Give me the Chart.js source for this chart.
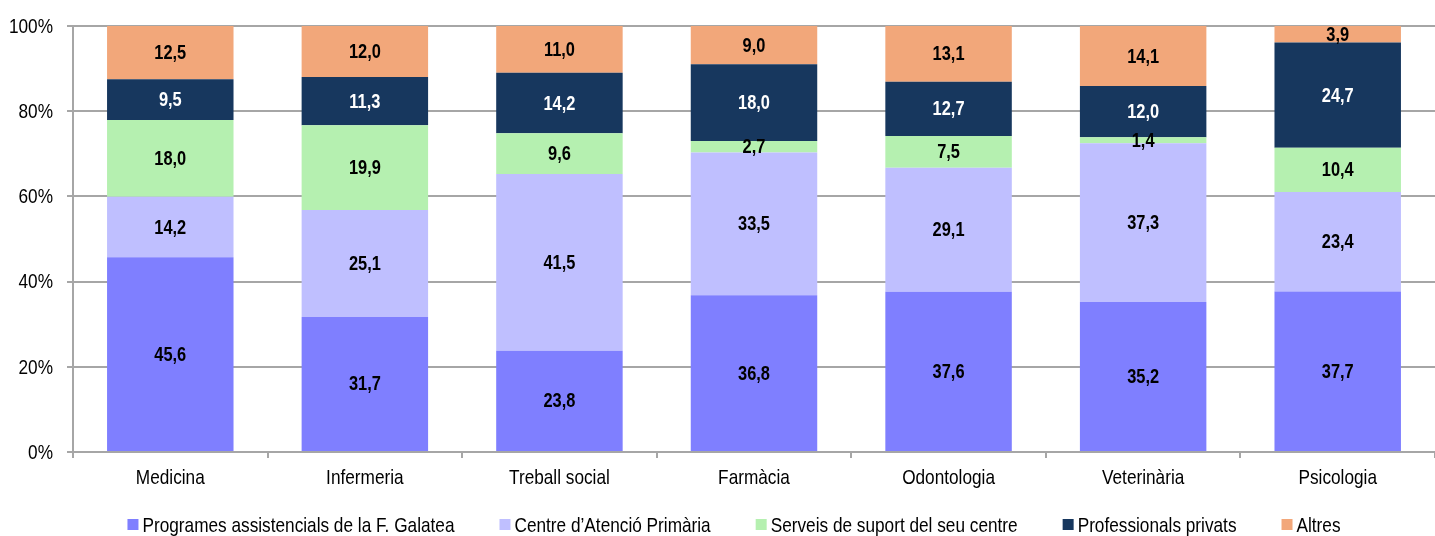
<!DOCTYPE html>
<html lang="ca">
<head>
<meta charset="UTF-8" />
<title>Recursos utilitzats per titulació</title>
<script src="https://cdn.jsdelivr.net/npm/chart.js"></script>
<style>
    body { margin: 0; background: #fff; }
    .chart-box { width: 1435px; height: 536px; }
</style>
</head>
<body>
<div class="chart-box">
    <canvas id="stackChart"></canvas>
</div>
<script>
    const categories = ['Medicina', 'Infermeria', 'Treball social', 'Farmàcia', 'Odontologia', 'Veterinària', 'Psicologia'];
    const seriesNames = [
        'Programes assistencials de la F. Galatea',
        'Centre d\u2019Atenció Primària',
        'Serveis de suport del seu centre',
        'Professionals privats',
        'Altres'
    ];
    const programes = [45.6, 31.7, 23.8, 36.8, 37.6, 35.2, 37.7];
    const atencioPrimaria = [14.2, 25.1, 41.5, 33.5, 29.1, 37.3, 23.4];
    const serveisSuport = [18.0, 19.9, 9.6, 2.7, 7.5, 1.4, 10.4];
    const privats = [9.5, 11.3, 14.2, 18.0, 12.7, 12.0, 24.7];
    const altres = [12.5, 12.0, 11.0, 9.0, 13.1, 14.1, 3.9];
    const yTicks = [0, 20, 40, 60, 80, 100];

    const colors = ['#7F7FFF', '#BFBFFF', '#B5F0B0', '#17375E', '#F2A77A'];
    const labelColors = ['#000', '#000', '#000', '#fff', '#000'];
    const FONT = '"Liberation Sans", Arial, sans-serif';
    const NARROW = 0.82;   // no narrow face installed, so squeeze the text instead
    const GRID = '#A6A6A6';

    const raw = [programes, atencioPrimaria, serveisSuport, privats, altres];
    // 100% stacked: each column scaled to its own total
    const totals = categories.map((_, i) => raw.reduce((s, arr) => s + arr[i], 0));

    const datasets = raw.map((arr, d) => ({
        label: seriesNames[d],
        data: arr.map((v, i) => v / totals[i] * 100),
        rawValues: arr,
        backgroundColor: colors[d],
        borderWidth: 0,
        categoryPercentage: 1,
        barPercentage: 0.65
    }));

    function narrowText(c, txt, x, y, align) {
        c.save();
        c.translate(x, y);
        c.scale(NARROW, 1);
        c.textAlign = align;
        c.fillText(txt, 0, 0);
        c.restore();
    }

    // tick labels, segment values and legend, all in the condensed look
    const narrowTexts = {
        id: 'narrowTexts',
        afterDraw(chart) {
            const c = chart.ctx;
            const xs = chart.scales.x, ys = chart.scales.y;
            c.save();
            c.textBaseline = 'middle';

            c.font = 'bold 20px ' + FONT;
            chart.data.datasets.forEach((ds, d) => {
                c.fillStyle = labelColors[d];
                chart.getDatasetMeta(d).data.forEach((bar, i) => {
                    const p = bar.getProps(['x', 'y', 'base'], true);
                    const txt = ds.rawValues[i].toFixed(1).replace('.', ',');
                    narrowText(c, txt, p.x, (p.y + p.base) / 2 + 1, 'center');
                });
            });

            c.font = '21px ' + FONT;
            c.fillStyle = '#000';
            yTicks.forEach(v => narrowText(c, v + '%', ys.left + 53, ys.getPixelForValue(v) + 1, 'right'));
            categories.forEach((cat, i) => narrowText(c, cat, xs.getPixelForValue(i), chart.chartArea.bottom + 26, 'center'));

            // legend row
            const widths = seriesNames.map(n => c.measureText(n).width * NARROW);
            const total = widths.reduce((a, w) => a + w + 15, 0) + 45 * (widths.length - 1);
            let x = 734 - total / 2;
            const y = 525;
            seriesNames.forEach((n, i) => {
                c.fillStyle = colors[i];
                c.fillRect(x, y - 6, 11, 11);
                c.fillStyle = '#000';
                narrowText(c, n, x + 15, y + 1, 'left');
                x += 15 + widths[i] + 45;
            });
            c.restore();
        }
    };

    new Chart(document.getElementById('stackChart'), {
        type: 'bar',
        data: { labels: categories, datasets: datasets },
        plugins: [narrowTexts],
        options: {
            responsive: true,
            maintainAspectRatio: false,
            animation: false,
            layout: { padding: { top: 26, right: 0, left: 0, bottom: 0 } },
            scales: {
                x: {
                    stacked: true,
                    offset: true,
                    afterFit(scale) { scale.height = 84; },
                    border: { color: GRID, width: 2 },
                    grid: { drawOnChartArea: false, color: GRID, lineWidth: 2, tickLength: 6, offset: true },
                    ticks: { display: false }
                },
                y: {
                    stacked: true,
                    min: 0,
                    max: 100,
                    afterBuildTicks(scale) {
                        scale.ticks = yTicks.map(v => ({ value: v }));
                    },
                    afterFit(scale) { scale.width = 73; },
                    border: { color: GRID, width: 2 },
                    grid: { color: GRID, lineWidth: 2, tickLength: 6 },
                    ticks: { display: false }
                }
            },
            plugins: {
                legend: { display: false },
                tooltip: { enabled: false }
            }
        }
    });
</script>
</body>
</html>
